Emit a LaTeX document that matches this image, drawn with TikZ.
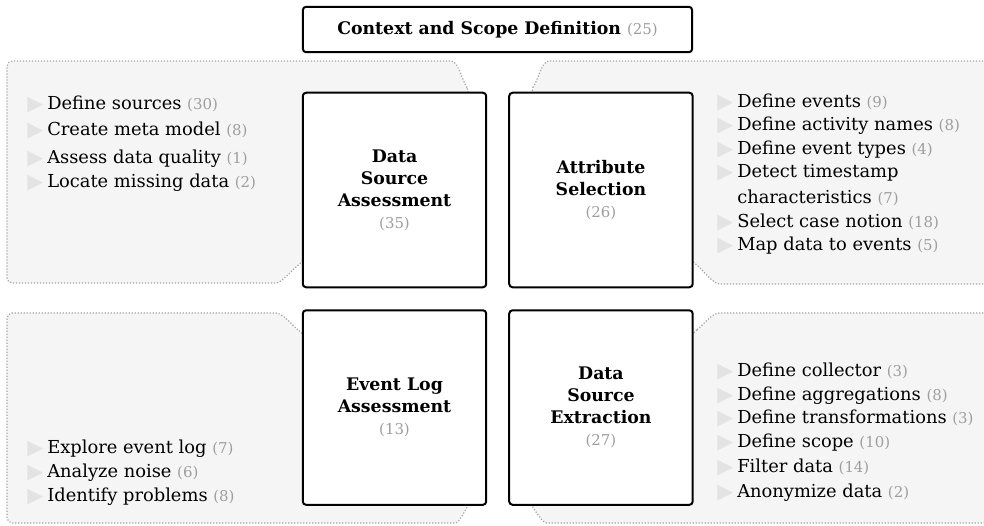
\documentclass[tikz,border=0pt]{standalone}
\usepackage{fontspec}
\setmainfont{DejaVu Serif}
\newfontfamily\symfont{DejaVu Sans}
\usetikzlibrary{positioning}
\definecolor{panelfill}{HTML}{F5F5F5}
\definecolor{paneldraw}{HTML}{A5A5A5}
\definecolor{cntgray}{HTML}{9E9E9E}
\definecolor{bulgray}{HTML}{E3E3E3}
\newcommand{\cnt}[1]{{\mdseries\fontsize{11.2}{12}\selectfont\color{cntgray}(#1)}}
\newcommand{\bul}{\makebox[15pt][l]{\raisebox{-1pt}{\fontsize{15.5}{12}\symfont\color{bulgray}\char"25B6}}}
\newcommand{\nobul}{\hspace*{15pt}}

\tikzset{
  panel/.style={fill=panelfill, draw=paneldraw, line width=0.9pt, dash pattern=on 0.9pt off 1.35pt, rounded corners=4pt},
  phase/.style={draw, fill=white, line width=1.5pt, rounded corners=2.5pt, align=center,
    font=\bfseries\fontsize{13}{16.5}\selectfont, inner sep=0pt,
    minimum width=137.6pt, minimum height=145.9pt},
  itm/.style={anchor=base west, inner sep=0pt, font=\fontsize{13.4}{15}\selectfont},
}

\begin{document}
\begin{tikzpicture}[x=0.75pt,y=-0.75pt]
\clip (0,0) rectangle (984,525);

% panels behind the four phases
\draw[panel] (470,92) .. controls (462,80) and (458,61) .. (446,61) -- (7,61) -- (7,283) -- (270,283) .. controls (282,283) and (292,270) .. (302,262) -- cycle;
\draw[panel] (530,92) .. controls (538,80) and (542,61) .. (554,61) -- (995,61) -- (995,284) -- (725,284) .. controls (713,284) and (703,270) .. (693,262) -- cycle;
\draw[panel] (302,333) .. controls (292,325) and (283,313) .. (270,313) -- (7,313) -- (7,523) -- (450,523) .. controls (459,523) and (464,512) .. (470,503) -- cycle;
\draw[panel] (693,333) .. controls (703,325) and (712,313) .. (725,313) -- (995,313) -- (995,523) -- (552,523) .. controls (543,523) and (536,512) .. (530,503) -- cycle;

% phases
\node[phase, minimum width=292pt, minimum height=34.1pt] (ctx) at (497.5,29.5) {Context and Scope Definition \cnt{25}};
\node[phase] (dsa) at (394.5,190) {Data\\Source\\Assessment\\\cnt{35}};
\node[phase, right=15.75pt of dsa] (as) {Attribute\\Selection\\\cnt{26}};
\node[phase, below=15.75pt of dsa] (ela) {Event Log\\Assessment\\\cnt{13}};
\node[phase, below=15.75pt of as] (dse) {Data\\Source\\Extraction\\\cnt{27}};

% activities
\foreach \y/\txt [count=\i] in {109/{Define sources \cnt{30}}, 135/{Create meta model \cnt{8}},
    163/{Assess data quality \cnt{1}}, 187/{Locate missing data \cnt{2}}}
  \node[itm] (dsa\i) at (27,\y) {\bul\txt};
\foreach \y/\txt [count=\i] in {107/{\bul Define events \cnt{9}}, 130/{\bul Define activity names \cnt{8}},
    154/{\bul Define event types \cnt{4}}, 177/{\bul Detect timestamp}, 203/{\nobul characteristics \cnt{7}},
    227/{\bul Select case notion \cnt{18}}, 250/{\bul Map data to events \cnt{5}}}
  \node[itm] (as\i) at (717,\y) {\txt};
\foreach \y/\txt [count=\i] in {453/{Explore event log \cnt{7}}, 477/{Analyze noise \cnt{6}},
    501/{Identify problems \cnt{8}}}
  \node[itm] (ela\i) at (27,\y) {\bul\txt};
\foreach \y/\txt [count=\i] in {376/{Define collector \cnt{3}}, 400/{Define aggregations \cnt{8}},
    423/{Define transformations \cnt{3}}, 447/{Define scope \cnt{10}}, 472/{Filter data \cnt{14}},
    497/{Anonymize data \cnt{2}}}
  \node[itm] (dse\i) at (717,\y) {\bul\txt};
\end{tikzpicture}
\end{document}
